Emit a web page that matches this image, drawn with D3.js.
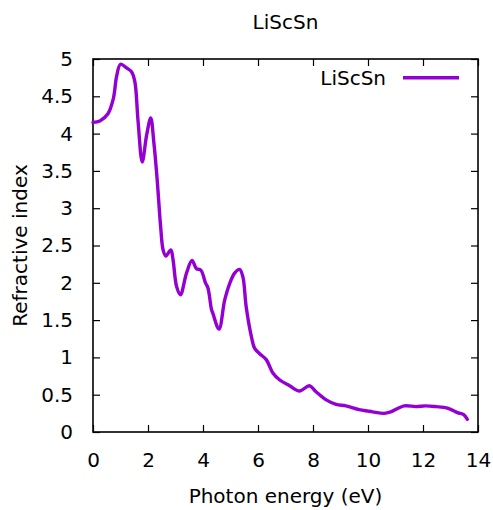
<!DOCTYPE html>
<html>
<head>
<meta charset="utf-8">
<script src="https://cdn.jsdelivr.net/npm/d3@7"></script>
<style>
  body { margin:0; background:#fff; }
  text { font-family: "DejaVu Sans", Verdana, sans-serif; fill:#000; }
</style>
</head>
<body>
<div id="chart"></div>
<script>
// data
const energy = [0, 0.25, 0.55, 0.74, 0.86, 1.0, 1.22, 1.40, 1.52, 1.64, 1.79, 1.95, 2.10, 2.21, 2.31,
  2.37, 2.46, 2.55, 2.65, 2.83, 2.91, 3.04, 3.18, 3.40, 3.60, 3.76, 3.92, 4.09, 4.18, 4.31, 4.36,
  4.58, 4.79, 4.97, 5.15, 5.33, 5.45, 5.57, 5.76, 5.88, 6.06, 6.30, 6.54, 6.78, 7.15, 7.51, 7.87,
  8.11, 8.48, 8.84, 9.20, 9.68, 10.0, 10.17, 10.59, 10.83, 11.32, 11.74, 12.10, 12.47, 12.89,
  13.25, 13.49, 13.61]
const nIndex = [4.15, 4.17, 4.27, 4.47, 4.77, 4.93, 4.88, 4.83, 4.70, 4.16, 3.62, 3.98, 4.21, 3.89, 3.49,
  3.20, 2.75, 2.44, 2.36, 2.44, 2.31, 1.95, 1.84, 2.13, 2.30, 2.19, 2.17, 2.00, 1.93, 1.64, 1.59,
  1.38, 1.77, 1.99, 2.13, 2.18, 2.08, 1.68, 1.28, 1.12, 1.05, 0.97, 0.79, 0.70, 0.62, 0.55, 0.62,
  0.54, 0.43, 0.37, 0.35, 0.30, 0.28, 0.27, 0.25, 0.27, 0.35, 0.34, 0.35, 0.34, 0.32,
  0.26, 0.23, 0.17]
const xTicks = [0, 2, 4, 6, 8, 10, 12, 14]
const yTicks = [0, 0.5, 1, 1.5, 2, 2.5, 3, 3.5, 4, 4.5, 5]
const seriesName = "LiScSn"

let width = 493, height = 510,
    margin = { top:59, left:93, right:15, bottom:78 },
    innerWidth = width - margin.left - margin.right,
    innerHeight = height - margin.top - margin.bottom

const data = energy.map((e,i) => ({ e:e, n:nIndex[i] }))

let xScale = d3.scaleLinear().domain([0,14]).range([0,innerWidth])
let yScale = d3.scaleLinear().domain([0,5]).range([innerHeight,0])

let svg = d3.select("#chart").append("svg").attr("width",width).attr("height",height)
let g = svg.append("g").attr("transform",`translate(${margin.left},${margin.top})`)

// axes, ticks pointing inward, mirrored on top/right
const tk = 7
g.append("g").attr("transform",`translate(0,${innerHeight})`)
  .call(d3.axisBottom(xScale).tickValues(xTicks).tickSizeInner(-tk).tickSizeOuter(0).tickPadding(21))
g.append("g").call(d3.axisLeft(yScale).tickValues(yTicks).tickSizeInner(-tk).tickSizeOuter(0).tickPadding(20).tickFormat(d3.format("")))
let topAx = g.append("g").call(d3.axisTop(xScale).tickValues(xTicks).tickSizeInner(-tk).tickSizeOuter(0))
let rightAx = g.append("g").attr("transform",`translate(${innerWidth},0)`)
  .call(d3.axisRight(yScale).tickValues(yTicks).tickSizeInner(-tk).tickSizeOuter(0))
// mirrored axes carry no labels
topAx.selectAll(".tick text").remove()
rightAx.selectAll(".tick text").remove()
g.selectAll(".domain").remove()
g.selectAll(".tick line").attr("stroke","#000").attr("stroke-width",1.2)
g.selectAll(".tick text").attr("font-size",20).attr("font-family","DejaVu Sans")
g.append("rect").attr("width",innerWidth).attr("height",innerHeight)
  .attr("fill","none").attr("stroke","#000").attr("stroke-width",1.6)

// curve
let line = d3.line().x(d=>xScale(d.e)).y(d=>yScale(d.n)).curve(d3.curveCatmullRom.alpha(0.5))
g.append("path").datum(data).attr("d",line)
  .attr("fill","none").attr("stroke","#9400d3").attr("stroke-width",3.4)
  .attr("stroke-linejoin","round").attr("stroke-linecap","round")

// legend
g.append("text").attr("x",293).attr("y",26).attr("text-anchor","end").attr("font-size",20).text(seriesName)
g.append("line").attr("x1",310).attr("x2",366).attr("y1",18.7).attr("y2",18.7)
  .attr("stroke","#9400d3").attr("stroke-width",3.4)

// titles
svg.append("text").attr("x",margin.left+innerWidth/2).attr("y",29).attr("text-anchor","middle")
  .attr("font-size",20).text(seriesName)
svg.append("text").attr("x",margin.left+innerWidth/2).attr("y",503).attr("text-anchor","middle")
  .attr("font-size",20).text("Photon energy (eV)")
svg.append("text").attr("transform",`translate(27,${margin.top+innerHeight/2}) rotate(-90)`)
  .attr("text-anchor","middle").attr("font-size",20).text("Refractive index")
</script>
</body>
</html>
